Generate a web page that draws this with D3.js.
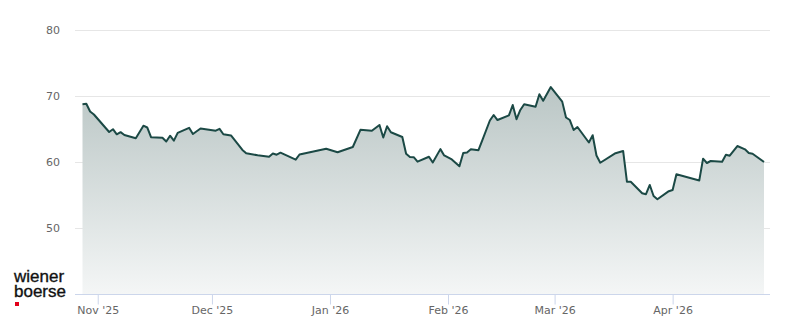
<!DOCTYPE html>
<html>
<head>
<meta charset="utf-8">
<script src="https://cdn.jsdelivr.net/npm/d3@7"></script>
<style>
  html, body { margin: 0; padding: 0; background: #fff; }
  svg { display: block; }
  .tick-label { font-family: "DejaVu Sans", sans-serif; font-size: 11px; fill: #666; }
  .logo { font-family: "Liberation Sans", Arial, sans-serif; font-size: 17px; fill: #111;
          stroke: #111; stroke-width: 0.35px; }
</style>
</head>
<body>
<script>
/* global d3 */

// trading dates and closing prices
var dates = [
    "2025-10-28", "2025-10-29", "2025-10-30", "2025-10-31", "2025-11-04",
    "2025-11-05", "2025-11-06", "2025-11-07", "2025-11-08", "2025-11-11",
    "2025-11-13", "2025-11-14", "2025-11-15", "2025-11-18", "2025-11-19",
    "2025-11-20", "2025-11-21", "2025-11-22", "2025-11-25", "2025-11-26",
    "2025-11-28", "2025-12-02", "2025-12-03", "2025-12-04", "2025-12-06",
    "2025-12-09", "2025-12-10", "2025-12-13", "2025-12-16", "2025-12-17",
    "2025-12-18", "2025-12-19", "2025-12-23", "2025-12-24", "2025-12-31",
    "2026-01-03", "2026-01-07", "2026-01-09", "2026-01-12", "2026-01-14",
    "2026-01-15", "2026-01-16", "2026-01-17", "2026-01-20", "2026-01-21",
    "2026-01-22", "2026-01-23", "2026-01-24", "2026-01-27", "2026-01-28",
    "2026-01-30", "2026-01-31", "2026-02-02", "2026-02-04", "2026-02-05",
    "2026-02-06", "2026-02-07", "2026-02-09", "2026-02-10", "2026-02-12",
    "2026-02-13", "2026-02-14", "2026-02-17", "2026-02-18", "2026-02-19",
    "2026-02-20", "2026-02-21", "2026-02-24", "2026-02-25", "2026-02-26",
    "2026-02-28", "2026-03-03", "2026-03-04", "2026-03-05", "2026-03-06",
    "2026-03-07", "2026-03-10", "2026-03-11", "2026-03-12", "2026-03-13",
    "2026-03-17", "2026-03-19", "2026-03-20", "2026-03-21", "2026-03-24",
    "2026-03-25", "2026-03-26", "2026-03-27", "2026-03-28", "2026-03-31",
    "2026-04-01", "2026-04-02", "2026-04-08", "2026-04-09", "2026-04-10",
    "2026-04-11", "2026-04-14", "2026-04-15", "2026-04-16", "2026-04-18",
    "2026-04-20", "2026-04-21", "2026-04-22", "2026-04-25"
];

var prices = [
    68.74, 68.82, 67.65, 67.20, 64.55,
    64.97, 64.20, 64.52, 64.09, 63.59,
    65.50, 65.23, 63.76, 63.67, 63.11,
    63.98, 63.23, 64.42, 65.18, 64.24,
    65.08, 64.74, 65.03, 64.21, 64.02,
    61.82, 61.32, 61.02, 60.80, 61.29,
    61.11, 61.41, 60.35, 61.14, 62.00,
    61.48, 62.27, 64.88, 64.73, 65.61,
    63.71, 65.41, 64.50, 63.79, 61.24,
    60.76, 60.73, 60.05, 60.80, 59.92,
    61.95, 61.00, 60.38, 59.35, 61.36,
    61.45, 61.92, 61.79, 63.26, 66.29,
    67.12, 66.36, 67.06, 68.64, 66.48,
    67.88, 68.74, 68.36, 70.27, 69.27,
    71.36, 69.15, 66.74, 66.36, 64.85,
    65.30, 62.95, 64.06, 60.98, 59.89,
    61.33, 61.67, 57.02, 57.00, 55.26,
    55.12, 56.52, 54.85, 54.36, 55.58,
    55.76, 58.15, 57.21, 60.50, 59.85,
    60.15, 60.05, 61.10, 60.95, 62.42,
    61.92, 61.36, 61.26, 60.00
];

var yTicks   = [50, 60, 70, 80];
var yDomain  = [40, 80];

var width  = 800;
var height = 324;
var plot   = { left: 75, right: 770, top: 30, bottom: 294 };

var parse = d3.timeParse("%Y-%m-%d");
var data  = dates.map((d, i) => ({ date: parse(d), value: prices[i] }));

var svg = d3.select("body").append("svg")
    .attr("width", width)
    .attr("height", height);

var x = d3.scaleTime()
    .domain(d3.extent(data, (d) => d.date))
    .range([plot.left + 7.5, plot.right - 6]);

var y = d3.scaleLinear()
    .domain(yDomain)
    .range([plot.bottom, plot.top]);

// gradient under the line
var grad = svg.append("defs").append("linearGradient")
    .attr("id", "fill")
    .attr("gradientUnits", "userSpaceOnUse")
    .attr("x1", 0).attr("x2", 0)
    .attr("y1", y(d3.max(prices))).attr("y2", plot.bottom);
grad.append("stop").attr("offset", "0%").attr("stop-color", "#bac6c5");
grad.append("stop").attr("offset", "100%").attr("stop-color", "#f4f6f6");

// horizontal grid + y labels
var grid = svg.append("g");
grid.selectAll("line")
    .data(yTicks)
    .enter().append("line")
    .attr("x1", plot.left)
    .attr("x2", plot.right)
    .attr("y1", (d) => Math.round(y(d)) + 0.5)
    .attr("y2", (d) => Math.round(y(d)) + 0.5)
    .attr("stroke", "#e6e6e6")
    .attr("stroke-width", 1);

grid.selectAll("text")
    .data(yTicks)
    .enter().append("text")
    .attr("class", "tick-label")
    .attr("x", 60)
    .attr("y", (d) => y(d) + 4)
    .attr("text-anchor", "end")
    .text((d) => d);

// area + line
var area = d3.area()
    .x((d) => x(d.date))
    .y0(plot.bottom)
    .y1((d) => y(d.value));

var line = d3.line()
    .x((d) => x(d.date))
    .y((d) => y(d.value));

svg.append("path")
   .datum(data)
   .attr("d", area)
   .attr("fill", "url(#fill)");

svg.append("path")
   .datum(data)
   .attr("d", line)
   .attr("fill", "none")
   .attr("stroke", "#1b4945")
   .attr("stroke-width", 2)
   .attr("stroke-linejoin", "round");

// x axis
var xAxis = d3.axisBottom(x)
    .ticks(d3.timeMonth.every(1))
    .tickFormat(d3.timeFormat("%b '%y"))
    .tickSize(10)
    .tickSizeOuter(0);

var gx = svg.append("g")
    .attr("transform", "translate(0," + (plot.bottom + 0.5) + ")")
    .call(xAxis);

gx.select(".domain")
  .attr("d", "M" + plot.left + ",0H" + plot.right)
  .attr("stroke", "#ccd6eb");
gx.selectAll(".tick line").attr("stroke", "#ccd6eb");
gx.selectAll(".tick text")
  .attr("class", "tick-label")
  .attr("dy", null)
  .attr("y", 19);

// logo
var logo = svg.append("g");
logo.append("text").attr("class", "logo").attr("x", 14).attr("y", 282).text("wiener");
logo.append("text").attr("class", "logo").attr("x", 14).attr("y", 297).text("boerse");
logo.append("rect")
    .attr("x", 15).attr("y", 302)
    .attr("width", 4).attr("height", 4)
    .attr("fill", "#e2001a");
</script>
</body>
</html>
